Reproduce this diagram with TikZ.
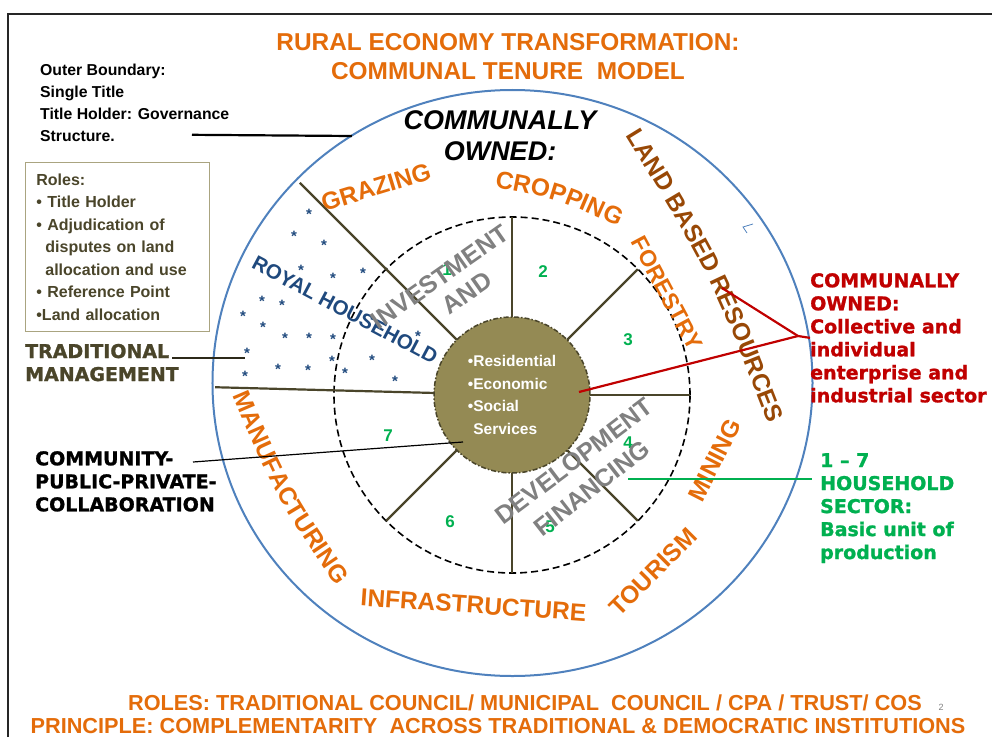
\documentclass[tikz,border=0pt]{standalone}
\usepackage{fontspec}
\setmainfont{Liberation Sans}
\newfontfamily\heavyfont{DejaVu Sans}[BoldFeatures={FakeBold=1.2}]
\usepackage{tikz}
\usetikzlibrary{positioning}
\usetikzlibrary{decorations.text}
\definecolor{secorange}{RGB}{228,108,10}
\definecolor{landbrown}{RGB}{152,72,6}
\definecolor{darkolive}{RGB}{74,69,42}
\definecolor{hubfill}{RGB}{148,138,84}
\definecolor{ringblue}{RGB}{79,129,189}
\definecolor{royalblue}{RGB}{31,73,125}
\definecolor{hhgreen}{RGB}{0,176,80}
\definecolor{ownedred}{RGB}{192,0,0}
\definecolor{textgray}{RGB}{128,128,128}
\definecolor{boxline}{RGB}{170,164,128}
\tikzstyle{spoke}=[draw=darkolive, line width=2.2pt]
\tikzstyle{hub}=[circle, fill=hubfill, draw=darkolive, line width=1.5pt,
                dash pattern=on 5pt off 2pt on 1.5pt off 2pt, minimum size=156pt,
                inner sep=0, text=white, align=left,
                font=\fontsize{15.5}{22.7}\selectfont\bfseries]
\tikzstyle{headline}=[text=secorange, inner sep=0, font=\fontsize{24.4}{24.4}\selectfont\bfseries]
\tikzstyle{footline}=[text=secorange, inner sep=0, font=\fontsize{21.7}{21.7}\selectfont\bfseries]
\tikzstyle{sector}=[text=secorange, inner sep=0, font=\fontsize{24.5}{24.5}\selectfont\bfseries]
\tikzstyle{fund}=[text=textgray, inner sep=0, font=\fontsize{25}{25}\selectfont\bfseries]
\tikzstyle{num}=[text=hhgreen, inner sep=0, font=\fontsize{17}{17}\selectfont\bfseries]
\tikzstyle{ast}=[text=royalblue, inner sep=0, font=\fontsize{15}{15}\selectfont\bfseries]
\tikzstyle{heavy}=[inner sep=0, align=left, font=\fontsize{19}{23}\selectfont\heavyfont\bfseries]
\tikzstyle{note}=[inner sep=0, align=left, anchor=north west,
                font=\fontsize{15.8}{22}\selectfont\bfseries]
\tikzstyle{rolesbox}=[draw=boxline, line width=0.8pt, text=darkolive, align=left,
                text width=162pt, inner xsep=11pt, inner ysep=0, minimum height=169pt,
                anchor=north west, font=\fontsize{16}{22.5}\selectfont\bfseries]
\tikzstyle{lead}=[draw, line width=2.2pt]
\newcommand{\arcfont}{\fontsize{24.5}{24.5}\selectfont\bfseries}

\begin{document}
\begin{tikzpicture}[x=1pt,y=1pt]
\def\hubr{78}
\def\ringr{178}
\def\outr{300}
\useasboundingbox (-512,-342) rectangle (480,395);
\draw[black!85, line width=1.6pt] (-504,-342) |- (480,381);

% rings
\draw[ringblue, line width=2pt] (0.5,12) ellipse [x radius=\outr, y radius=293];
\draw[ringblue, line width=0.8pt] (241,171) -- (231,168) -- (235,162);
\draw[line width=1.6pt, dash pattern=on 7pt off 4pt] (0,0) circle (\ringr);

% spokes, the royal household ones run out to the boundary
\foreach \a in {-135,-90,...,90}
  \draw[spoke] (\a:\hubr) -- (\a:\ringr);
\draw[spoke] (135:\hubr) -- (135:\outr);
\draw[spoke] (178.5:\hubr) -- (178.5:297);

\node[hub] (hub) at (0,0) {•Residential\\•Economic\\•Social\\\hphantom{•}Services};

% royal household
\foreach \sx/\sy [count=\k] in {-203/184,-218/162,-188/153,-211/128,-179/120,-149/125,
    -250/97,-230/93,-269/82,-249/71,-227/60,-203/60,-179/59,-94/62,-265/45,-180/37,
    -140/38,-234/29,-204/28,-167/25,-267/22,-117/17}
  \node[ast] (s\k) at (\sx,\sy-3) {*};
\node[rotate=-28, text=royalblue, inner sep=0,
      font=\fontsize{20.5}{20.5}\selectfont\bfseries] (royal) at (-167,85) {ROYAL HOUSEHOLD};

% household sectors
\foreach \nx/\ny/\t in {-65/125/1, 31/123/2, 116/55/3, 116/-48/4, 38/-132/5, -62/-127/6, -124/-41/7}
  \node[num] (n\t) at (\nx,\ny) {\t};

\node[fund, rotate=35] (invest) at (-72,118) {INVESTMENT};
\node[fund, rotate=35] (and) at (-45,102) {AND};
\node[fund, rotate=37] (devel) at (62,-66) {DEVELOPMENT};
\node[fund, rotate=38] (finance) at (80,-93) {FINANCING};

% land uses
\node[sector, rotate=17] (grazing) at (-136,208) {GRAZING};
\node[sector, rotate=-62, font=\fontsize{23}{23}\selectfont\bfseries] (forestry) at (155,102) {FORESTRY};
\node[sector, rotate=63] (mining) at (203,-65) {MINING};
\node[sector, rotate=45] (tourism) at (141,-177) {TOURISM};
\node[sector, rotate=-4] (infra) at (-38.5,-210) {INFRASTRUCTURE};
\path[decorate, decoration={text along path, text align=center, text color=secorange,
    text={|\arcfont|CROPPING}}]
  (-29,210) .. controls (47,196) .. (117,163);
\path[decorate, decoration={text along path, text align=center, text color=secorange,
    text={|\arcfont|MANUFACTURING}}]
  (-286,14) .. controls (-237,-101) .. (-167,-204);
\path[decorate, decoration={text along path, text align=center, text color=landbrown,
    text={|\arcfont|LAND BASED RESOURCES}}]
  (106,272) .. controls (198,122) .. (262,-43);

\node[inner sep=0, align=center, font=\fontsize{27}{31}\selectfont\bfseries\itshape]
  (commown) at (-12,259) {COMMUNALLY\\OWNED:};

% titles
\node[headline] (title) at (-4,353) {RURAL ECONOMY TRANSFORMATION:};
\node[headline, below=11pt of title] (model) {COMMUNAL TENURE\ \ MODEL};
\node[footline] (roleline) at (13,-308) {ROLES: TRADITIONAL COUNCIL/ MUNICIPAL\ \ COUNCIL / CPA / TRUST/ COS};
\node[footline] (principle) at (-14,-331) {PRINCIPLE: COMPLEMENTARITY\ \ ACROSS TRADITIONAL \& DEMOCRATIC INSTITUTIONS};
\node[text=textgray, inner sep=0, font=\fontsize{9}{9}\selectfont] (page) at (429,-312) {2};

% left side notes
\node[note] (boundary) at (-472,331.5) {Outer Boundary:\\Single Title\\Title Holder: Governance\\Structure.};
\node[rolesbox] (roles) at (-487,233) {Roles:\\• Title Holder\\• Adjudication of\\
  \hspace*{9pt}disputes on land\\\hspace*{9pt}allocation and use\\• Reference Point\\•Land allocation};
\node[heavy, text=darkolive, anchor=base west] (trad) at (-487,37) {TRADITIONAL};
\node[heavy, text=darkolive, anchor=base west] (mgmt) at (-487,14) {MANAGEMENT};
\node[heavy, anchor=north west] (cpp) at (-477,-56) {COMMUNITY-\\PUBLIC-PRIVATE-\\COLLABORATION};

% right side notes
\node[heavy, text=ownedred, anchor=north west] (owned) at (298,122)
  {COMMUNALLY\\OWNED:\\Collective and\\individual\\enterprise and\\industrial sector};
\node[heavy, text=hhgreen, anchor=north west] (household) at (308,-58)
  {1 – 7\\HOUSEHOLD\\SECTOR:\\Basic unit of\\production};

% connectors
\coordinate (bndend) at (-160,259);
\coordinate (tradend) at (-267,37);
\coordinate (cppend) at (-49,-47);
\coordinate (fork) at (286,59);
\coordinate (landpt) at (210,107);
\coordinate (hubpt) at (67,3);
\coordinate (hhstart) at (116,-84);
\draw[lead] ([xshift=152pt,yshift=6.7pt]boundary.south west) -- (bndend);
\draw[lead, draw=darkolive!60!black] ([xshift=3pt]trad.base east) -- (tradend);
\draw[lead, line width=1.2pt] ([xshift=158pt,yshift=-11pt]cpp.north west) -- (cppend);
\draw[lead, draw=ownedred] (owned.west) -- (fork) -- (landpt);
\draw[lead, draw=ownedred] (fork) -- (hubpt);
\draw[lead, draw=hhgreen] (hhstart) -- ([xshift=-8pt,yshift=-26pt]household.north west);
\end{tikzpicture}
\end{document}
